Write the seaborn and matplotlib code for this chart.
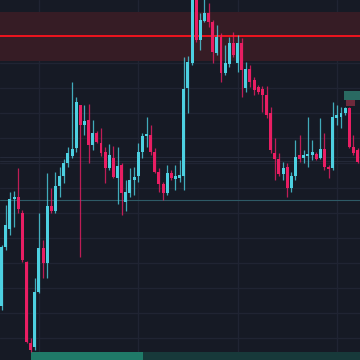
import numpy as np
import pandas as pd
import matplotlib
matplotlib.use("Agg")
import matplotlib.pyplot as plt
import seaborn as sns

# candle prices (arbitrary price units)
opens = [54, 113, 131, 161, 163, 147, 98, 17, 13, 68, 112, 97, 154, 149, 174, 184, 197, 204, 212, 255,
         235, 240, 215, 227, 217, 208, 192, 202, 182, 195, 158, 167, 180, 184, 208, 224, 225, 208, 188, 176,
         167, 187, 181, 182, 184, 272, 297, 363, 320, 339, 347, 338, 307, 323, 287, 296, 317, 297, 317, 272,
         291, 280, 273, 271, 265, 247, 207, 201, 186, 193, 172, 184, 205, 202, 204, 205, 206, 202, 211, 193,
         192, 242, 243, 247, 252, 213, 210]
closes = [113, 135, 161, 163, 151, 100, 18, 10, 68, 112, 97, 154, 149, 174, 184, 197, 207, 211, 258, 235,
          239, 215, 227, 218, 207, 192, 205, 183, 194, 167, 168, 180, 183, 208, 224, 226, 208, 188, 176, 167,
          187, 182, 184, 185, 271, 298, 365, 320, 340, 347, 338, 308, 323, 287, 297, 317, 305, 317, 290, 291,
          278, 270, 268, 265, 245, 210, 201, 186, 192, 172, 184, 203, 201, 205, 206, 208, 201, 211, 193, 191,
          243, 245, 247, 252, 213, 207, 198]
highs = [115, 155, 168, 169, 192, 150, 99, 22, 82, 147, 120, 187, 172, 188, 193, 201, 213, 278, 263, 255,
         255, 256, 240, 229, 232, 213, 216, 214, 213, 197, 180, 192, 193, 217, 227, 243, 235, 212, 192, 178,
         195, 190, 195, 200, 303, 304, 370, 368, 347, 362, 357, 340, 335, 327, 315, 323, 328, 325, 322, 298,
         295, 283, 275, 274, 274, 253, 222, 207, 198, 197, 188, 220, 225, 210, 243, 220, 208, 242, 227, 195,
         258, 255, 253, 253, 253, 225, 212]
lows = [50, 110, 125, 133, 147, 98, 17, 8, 10, 67, 82, 82, 147, 147, 163, 177, 193, 202, 208, 103,
        225, 197, 210, 217, 204, 177, 190, 182, 156, 145, 149, 163, 165, 178, 202, 213, 205, 187, 168, 160,
        165, 180, 170, 178, 170, 247, 295, 318, 310, 338, 333, 297, 305, 278, 285, 293, 303, 288, 263, 268,
        273, 265, 266, 248, 242, 207, 180, 184, 180, 163, 168, 180, 198, 197, 193, 200, 200, 201, 190, 182,
        190, 235, 232, 245, 212, 205, 197]

# drawn levels / zones
resistance_level = 324
resistance_zone = (299, 348)
support_level = 160
grid_prices = [22, 47, 72, 97, 122, 147, 172, 197, 222, 247, 272, 297, 322, 347]
grid_bars = [9, 33, 57, 81]

df = pd.DataFrame({"open": opens, "close": closes, "high": highs, "low": lows})
df["idx"] = np.arange(len(df))
df["up"] = df["close"] >= df["open"]

bg = "#161a25"
up_col = "#4dd0e1"
down_col = "#e91e63"

sns.set_theme(style="dark", rc={"axes.facecolor": bg, "figure.facecolor": bg})

fig = plt.figure(figsize=(3.6, 3.6), dpi=100)
ax = fig.add_axes([0, 0, 1, 1])
ax.set_facecolor(bg)

# grid
for g in grid_prices:
    ax.axhline(g, color="#202433", lw=1, zorder=0)
for g in grid_bars:
    ax.axvline(g, color="#202433", lw=1, zorder=0)

# resistance zone + line
ax.axhspan(*resistance_zone, color="#361c25", lw=0, zorder=1)
ax.axhline(resistance_level, color="#f0141e", lw=1.4, zorder=2)

# support line
ax.axhline(support_level, color="#2e5a66", lw=0.8, zorder=1)
ax.axhline(203, color="#242938", lw=0.8, zorder=1)
ax.axhline(199, color="#242938", lw=0.8, zorder=1)

# bottom zone
ax.fill_between([7.1, 34.2], 0, 8, color="#1f7a68", lw=0, zorder=1)
ax.fill_between([34.2, 90], 0, 8, color="#17393a", lw=0, zorder=1)

# position box top right
ax.fill_between([82.7, 90], 260, 269, color="#2a6a62", lw=0, zorder=1)
ax.fill_between([83.2, 85.4], 254, 260, color="#6e2a3c", lw=0, zorder=1)

colors = np.where(df["up"], up_col, down_col)
ax.vlines(df["idx"], df["low"], df["high"], colors=colors, lw=0.9, alpha=0.8, zorder=3)
body_bottom = df[["open", "close"]].min(axis=1)
body_height = (df["close"] - df["open"]).abs().clip(lower=1.2)
ax.bar(df["idx"], body_height, bottom=body_bottom, width=0.72, color=colors, lw=0, zorder=4)

ax.set_xlim(-0.41, 86.59)
ax.set_ylim(0, 360)
ax.set_xticks([])
ax.set_yticks([])
for s in ax.spines.values():
    s.set_visible(False)

fig.savefig("out.png", dpi=100, facecolor=bg)
